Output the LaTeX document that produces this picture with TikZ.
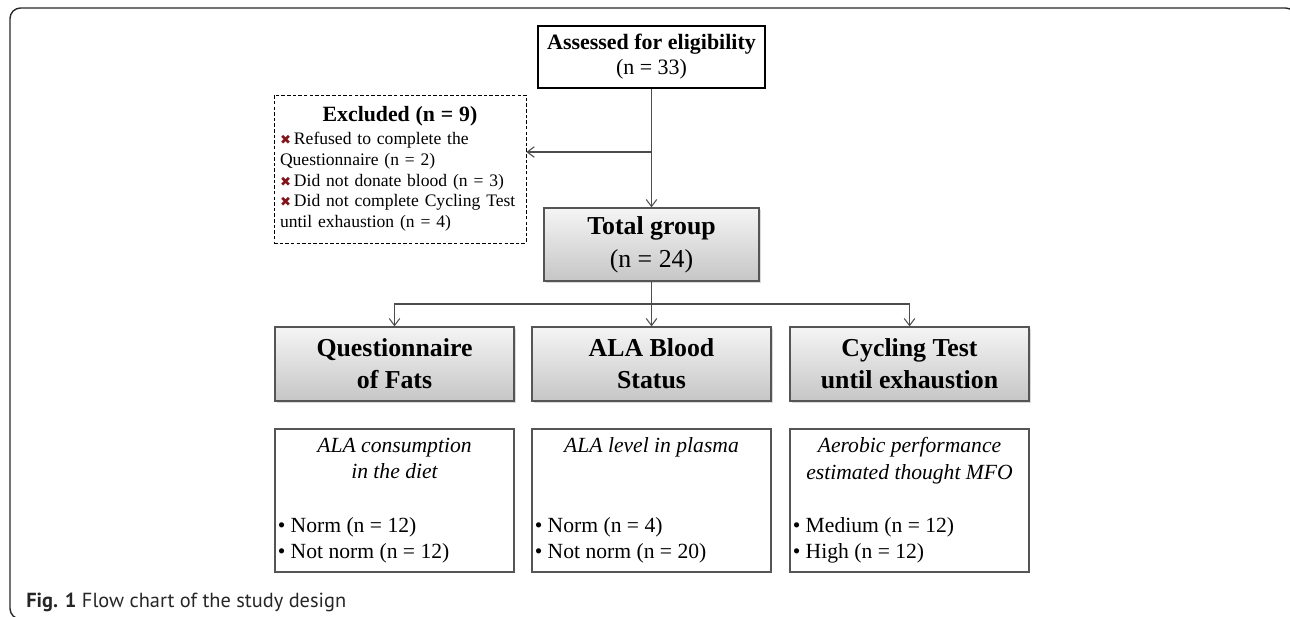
\documentclass[tikz,border=0pt]{standalone}
\usepackage{fontspec}
\setmainfont{Liberation Serif}
\setsansfont{PT Sans}
\newfontfamily\symbfont{DejaVu Sans}
\usetikzlibrary{positioning,shadows,arrows.meta}
\definecolor{framegray}{RGB}{40,40,40}
\definecolor{boxedge}{RGB}{85,85,85}
\definecolor{crossred}{RGB}{130,20,25}
\newcommand{\crossmark}{{\symbfont\fontsize{7.5}{8}\selectfont\color{crossred}✖}}

\begin{document}
\begin{tikzpicture}[x=0.02cm, y=-0.02cm, >={Straight Barb[length=4pt,width=6pt]},
    assessbox/.style={draw, line width=1.5pt, minimum width=4.54cm, minimum height=1.24cm, inner sep=0pt, align=center, font=\fontsize{12.5}{14.2}\selectfont},
    shadebox/.style={draw=boxedge, line width=0.7pt, top color=gray!8, bottom color=gray!45, drop shadow={shadow xshift=1pt, shadow yshift=-1.2pt, opacity=0.3}, inner sep=0pt, align=center},
    headbox/.style={shadebox, minimum width=4.78cm, minimum height=1.48cm, font=\fontsize{14.7}{18.1}\selectfont\bfseries},
    exclbox/.style={draw, line width=0.5pt, dash pattern=on 2pt off 1.2pt, minimum width=5.04cm, minimum height=2.96cm, text width=4.8cm, inner sep=0pt, align=left, font=\fontsize{10}{11.9}\selectfont},
    resbox/.style={draw=boxedge, line width=0.7pt, minimum width=4.78cm, minimum height=2.86cm},
    restitle/.style={inner sep=0pt, align=center, font=\fontsize{12.3}{15.3}\selectfont\itshape},
    reslist/.style={inner sep=0pt, align=left, font=\fontsize{12.3}{14.7}\selectfont},
    link/.style={draw=black!70, line width=0.6pt}]
  \useasboundingbox (0,0) rectangle (1290,616);
  \draw[framegray, line width=0.8pt, rounded corners=6pt] (10,8) rectangle (1296,619);
  \node[assessbox] (assess) at (651.5,57) {\textbf{Assessed for eligibility}\\(n = 33)};
  \node[exclbox] (excl) at (400,169) {\makebox[\linewidth]{\bfseries\fontsize{12.4}{14}\selectfont Excluded (n = 9)}\\[1pt]
    \crossmark\,Refused to complete the\\
    Questionnaire (n = 2)\\
    \crossmark\,Did not donate blood (n = 3)\\
    \crossmark\,Did not complete Cycling Test\\
    until exhaustion (n = 4)};
  \node[shadebox, minimum width=4.3cm, minimum height=1.46cm, font=\fontsize{14.7}{18.7}\selectfont] (total) at (651.5,244.5) {\textbf{Total group}\\(n = 24)};
  \node[headbox] (quest) at (394.5,364) {Questionnaire\\of Fats};
  \node[headbox] (blood) at (651.5,364) {ALA Blood\\Status};
  \node[headbox] (cycle) at (909.5,364) {Cycling Test\\until exhaustion};
  \node[resbox] (diet) at (394.5,500.5) {};
  \node[restitle, below=0.18cm of diet.north] (diettitle) {ALA consumption\\in the diet};
  \node[reslist, above right=0.18cm and 0.06cm of diet.south west] (dietlist) {• Norm (n = 12)\\• Not norm (n = 12)};
  \node[resbox] (plasma) at (651.5,500.5) {};
  \node[restitle, below=0.18cm of plasma.north] (plasmatitle) {ALA level in plasma};
  \node[reslist, above right=0.18cm and 0.06cm of plasma.south west] (plasmalist) {• Norm (n = 4)\\• Not norm (n = 20)};
  \node[resbox] (mfo) at (909.5,500.5) {};
  \node[restitle, below=0.18cm of mfo.north] (mfotitle) {Aerobic performance\\estimated thought MFO};
  \node[reslist, above right=0.18cm and 0.06cm of mfo.south west] (mfolist) {• Medium (n = 12)\\• High (n = 12)};
  \coordinate (split) at (651.5,152);
  \coordinate (fork) at (651.5,304);
  \draw[link, ->] (assess) -- (total);
  \draw[link, ->] (split) -- (split -| excl.east);
  \draw[link] (total) -- (fork);
  \draw[link, ->] (fork) -- (blood);
  \draw[link, ->] (fork) -| (quest);
  \draw[link, ->] (fork) -| (cycle);
  \node[anchor=west, inner sep=0pt, text=black!85, font=\sffamily\fontsize{11.6}{13}\selectfont] (caption) at (26,602) {\textbf{Fig. 1} Flow chart of the study design};
\end{tikzpicture}
\end{document}
